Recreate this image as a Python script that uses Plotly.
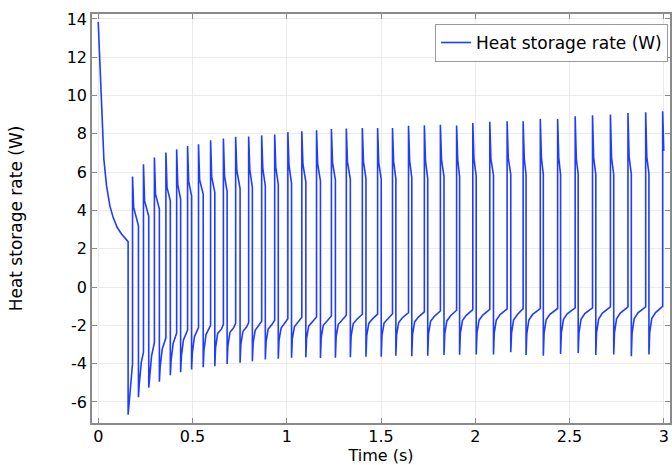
import plotly.graph_objects as go

# ---- series data (time in s, heat storage rate in W) ----
# warm-up decay before the first switching event
decay_t = [0.000, 0.004, 0.009, 0.0143, 0.0213, 0.030, 0.0442, 0.0618, 0.079, 0.1004, 0.1235, 0.141]
decay_v = [13.85, 12.90, 11.52, 9.79, 8.06, 6.67, 5.28, 4.24, 3.64, 3.12, 2.77, 2.55]

# switch-on instants and the values around each rising edge
t_up = [0.182, 0.240, 0.298, 0.359, 0.416, 0.474, 0.532, 0.596, 0.664, 0.729,
        0.798, 0.867, 0.936, 1.006, 1.080, 1.158, 1.237, 1.316, 1.401, 1.482,
        1.561, 1.646, 1.730, 1.815, 1.901, 1.987, 2.077, 2.169, 2.254, 2.345,
        2.437, 2.530, 2.622, 2.717, 2.810, 2.904, 2.994]
peak = [5.77, 6.41, 6.77, 7.03, 7.19, 7.36, 7.46, 7.67, 7.76, 7.85,
        7.86, 7.92, 7.97, 8.09, 8.14, 8.19, 8.25, 8.28, 8.31, 8.31,
        8.30, 8.42, 8.45, 8.47, 8.44, 8.57, 8.63, 8.66, 8.66, 8.78,
        8.78, 8.92, 8.97, 9.01, 9.09, 9.13, 9.18]
knee = [4.16, 4.50, 4.85, 5.20, 5.35, 5.50, 5.60, 5.75, 5.80, 6.10,
        6.15, 6.20, 6.25, 6.35, 6.40, 6.45, 6.50, 6.55, 6.55, 6.50,
        6.55, 6.60, 6.60, 6.65, 6.65, 6.70, 6.70, 6.75, 6.70, 6.75,
        6.75, 6.70, 6.75, 6.75, 6.80, 6.80, 7.10]
low = [-3.99, -3.40, -2.90, -2.65, -2.40, -2.25, -2.12, -2.00, -1.95, -1.90,
       -1.86, -1.79, -1.73, -1.65, -1.58, -1.56, -1.51, -1.47, -1.42, -1.41,
       -1.39, -1.34, -1.30, -1.25, -1.21, -1.18, -1.16, -1.14, -1.13, -1.13,
       -1.12, -1.09, -1.09, -1.04, -1.04, -1.04, -1.01]

# switch-off instants and the values around each falling edge
t_down = [0.1586, 0.2134, 0.2680, 0.3244, 0.3825, 0.4371, 0.4952, 0.5569, 0.6185, 0.6838,
          0.7525, 0.8177, 0.8864, 0.9551, 1.0255, 1.1013, 1.1788, 1.2581, 1.3374, 1.4202,
          1.5012, 1.5788, 1.6633, 1.7479, 1.8342, 1.9170, 2.0051, 2.0967, 2.1883, 2.2694,
          2.3610, 2.4526, 2.5460, 2.6394, 2.7345, 2.8279, 2.9213]
pre_drop = [2.37, 3.20, 3.70, 4.07, 4.50, 4.60, 4.76, 4.85, 4.94, 4.97,
            5.14, 5.20, 5.28, 5.37, 5.42, 5.49, 5.54, 5.59, 5.63, 5.66,
            5.63, 5.66, 5.72, 5.68, 5.77, 5.77, 5.80, 5.84, 5.89, 5.88,
            5.86, 5.86, 5.90, 5.88, 5.88, 5.90, 5.92]
trough = [-6.67, -5.75, -5.25, -4.94, -4.61, -4.45, -4.31, -4.19, -4.13, -4.02,
          -3.95, -3.87, -3.78, -3.74, -3.69, -3.67, -3.71, -3.69, -3.67, -3.64,
          -3.64, -3.59, -3.61, -3.59, -3.55, -3.54, -3.52, -3.52, -3.40, -3.55,
          -3.59, -3.50, -3.45, -3.55, -3.52, -3.61, -3.52]
# recovery after each falling edge, sampled 4 ms, 15 ms and 35 ms after the edge
rec_a = [-6.20, -5.10, -4.70, -4.20, -3.85, -3.62, -3.45, -3.30, -3.18, -3.08,
         -3.00, -2.92, -2.85, -2.78, -2.72, -2.68, -2.64, -2.60, -2.57, -2.55,
         -2.53, -2.50, -2.48, -2.46, -2.44, -2.42, -2.41, -2.40, -2.42, -2.43,
         -2.42, -2.41, -2.40, -2.40, -2.39, -2.40, -2.38]
rec_b = [-4.95, -3.95, -3.60, -3.25, -2.95, -2.76, -2.60, -2.48, -2.42, -2.36,
         -2.32, -2.26, -2.20, -2.14, -2.08, -2.04, -2.00, -1.96, -1.92, -1.90,
         -1.88, -1.85, -1.82, -1.79, -1.77, -1.75, -1.73, -1.72, -1.72, -1.72,
         -1.71, -1.70, -1.69, -1.67, -1.66, -1.66, -1.64]
rec_c = [None, None, None, None, None, None, None, None, -2.20, -2.12,
         -2.08, -2.02, -1.96, -1.90, -1.84, -1.80, -1.76, -1.72, -1.68, -1.66,
         -1.64, -1.60, -1.57, -1.53, -1.50, -1.48, -1.46, -1.44, -1.43, -1.43,
         -1.42, -1.40, -1.39, -1.36, -1.36, -1.35, -1.33]
rec_dt = [0.004, 0.015, 0.035]
knee_dt = 0.006

# axis ticks
x_ticks = [0, 0.5, 1, 1.5, 2, 2.5, 3]
x_ticktext = ["0", "0.5", "1", "1.5", "2", "2.5", "3"]
y_ticks = [14, 12, 10, 8, 6, 4, 2, 0, -2, -4, -6]
y_ticktext = ["14", "12", "10", "8", "6", "4", "2", "0", "-2", "-4", "-6"]

# ---- assemble the polyline ----
xs = list(decay_t)
ys = list(decay_v)
for k in range(len(t_down)):
    xs += [t_down[k], t_down[k]]
    ys += [pre_drop[k], trough[k]]
    for dt, val in zip(rec_dt, (rec_a[k], rec_b[k], rec_c[k])):
        if val is not None:
            xs.append(t_down[k] + dt)
            ys.append(val)
    xs += [t_up[k], t_up[k], t_up[k] + knee_dt]
    ys += [low[k], peak[k], knee[k]]

FONT = "DejaVu Sans"
AXIS_GREY = "#8a8a8a"

fig = go.Figure(
    go.Scatter(
        x=xs, y=ys, mode="lines", name="Heat storage rate (W)",
        line=dict(color="#1f3cff", width=1.6),
    )
)

axis_common = dict(
    showline=True, linecolor=AXIS_GREY, linewidth=1.5, mirror="ticks",
    ticks="inside", ticklen=5, tickwidth=1, tickcolor=AXIS_GREY,
    showgrid=True, gridcolor="#ebebeb", gridwidth=1, zeroline=False,
    tickfont=dict(family=FONT, size=16, color="#000000"),
)

fig.update_layout(
    width=672, height=465,
    margin=dict(l=92, r=0, t=14, b=40),
    paper_bgcolor="white", plot_bgcolor="white",
    font=dict(family=FONT, size=16, color="#000000"),
    xaxis=dict(
        range=[-0.033, 3.033], tickmode="array", tickvals=x_ticks, ticktext=x_ticktext,
        ticklabelstandoff=-2,
        title=dict(text="Time (s)", font=dict(family=FONT, size=16), standoff=8),
        **axis_common,
    ),
    yaxis=dict(
        range=[-7.1, 14.26], tickmode="array", tickvals=y_ticks, ticktext=y_ticktext,
        title=dict(text="Heat storage rate (W)", font=dict(family=FONT, size=17), standoff=40),
        **axis_common,
    ),
    showlegend=True,
    legend=dict(
        x=0.9966, xanchor="right", y=0.9757, yanchor="top",
        bgcolor="white", bordercolor="#9a9a9a", borderwidth=1,
        font=dict(family=FONT, size=17, color="#000000"),
        itemwidth=30,
    ),
)

fig.write_html("out.html")
